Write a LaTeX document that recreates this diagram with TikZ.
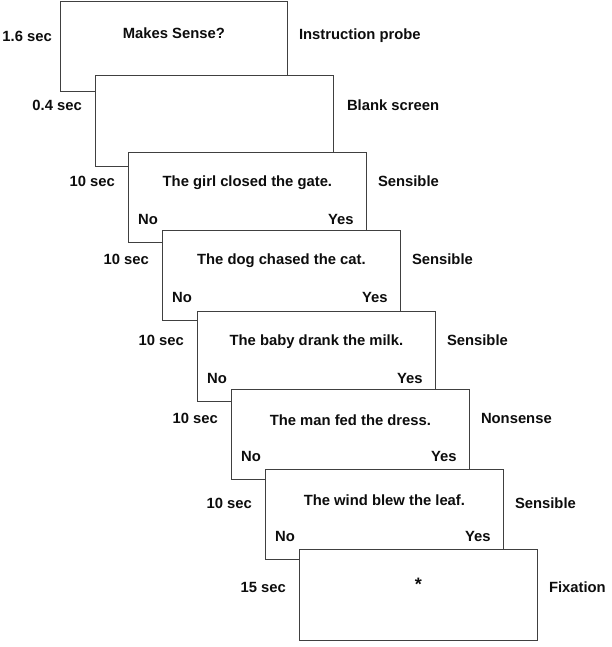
\documentclass[tikz,border=0pt]{standalone}
\usepackage{fontspec}
\setmainfont{Liberation Sans}
\usetikzlibrary{positioning,calc}

\begin{document}
\begin{tikzpicture}[
  x=1pt, y=1pt,
  screen/.style={draw=black!75, fill=white, line width=0.8pt, minimum width=238pt, minimum height=90pt, anchor=north west, inner sep=0pt},
  lbl/.style={font=\bfseries\fontsize{14.8}{17}\selectfont, text=black!95, inner sep=0pt},
]
\useasboundingbox (0,0) rectangle (611,-647);

% instruction and blank
\node[screen, minimum width=227pt] (b1) at (60,-1) {};
\node[lbl] (q1) at ($(b1.north)+(0,-32)$) {Makes Sense?};
\node[lbl, anchor=east] (t1) at ($(b1.north west)+(-8,-35)$) {1.6 sec};
\node[lbl, anchor=west] (r1) at ($(b1.north east)+(11,-35)$) {Instruction probe};

\node[screen, minimum height=91pt] (b2) at (95,-75) {};
\node[lbl, anchor=east] (t2) at ($(b2.north west)+(-13,-30)$) {0.4 sec};
\node[lbl, anchor=west] (r2) at ($(b2.north east)+(13,-30)$) {Blank screen};

% sentence trials
\node[screen] (b3) at (128,-152) {};
\node[lbl] (q3) at ($(b3.north)+(0,-31)$) {The girl closed the gate.};
\node[lbl, anchor=east] (t3) at ($(b3.north west)+(-13,-29)$) {10 sec};
\node[lbl, anchor=west] (r3) at ($(b3.north east)+(11,-29)$) {Sensible};
\node[lbl, anchor=west] (n3) at ($(b3.south west)+(10,23)$) {No};
\node[lbl, anchor=east] (y3) at ($(b3.south east)+(-13,23)$) {Yes};

\node[screen] (b4) at (162,-230) {};
\node[lbl] (q4) at ($(b4.north)+(0,-31)$) {The dog chased the cat.};
\node[lbl, anchor=east] (t4) at ($(b4.north west)+(-13,-29)$) {10 sec};
\node[lbl, anchor=west] (r4) at ($(b4.north east)+(11,-29)$) {Sensible};
\node[lbl, anchor=west] (n4) at ($(b4.south west)+(10,23)$) {No};
\node[lbl, anchor=east] (y4) at ($(b4.south east)+(-13,23)$) {Yes};

\node[screen] (b5) at (197,-311) {};
\node[lbl] (q5) at ($(b5.north)+(0,-31)$) {The baby drank the milk.};
\node[lbl, anchor=east] (t5) at ($(b5.north west)+(-13,-29)$) {10 sec};
\node[lbl, anchor=west] (r5) at ($(b5.north east)+(11,-29)$) {Sensible};
\node[lbl, anchor=west] (n5) at ($(b5.south west)+(10,23)$) {No};
\node[lbl, anchor=east] (y5) at ($(b5.south east)+(-13,23)$) {Yes};

\node[screen] (b6) at (231,-389) {};
\node[lbl] (q6) at ($(b6.north)+(0,-31)$) {The man fed the dress.};
\node[lbl, anchor=east] (t6) at ($(b6.north west)+(-13,-29)$) {10 sec};
\node[lbl, anchor=west] (r6) at ($(b6.north east)+(11,-29)$) {Nonsense};
\node[lbl, anchor=west] (n6) at ($(b6.south west)+(10,23)$) {No};
\node[lbl, anchor=east] (y6) at ($(b6.south east)+(-13,23)$) {Yes};

\node[screen] (b7) at (265,-469) {};
\node[lbl] (q7) at ($(b7.north)+(0,-31)$) {The wind blew the leaf.};
\node[lbl, anchor=east] (t7) at ($(b7.north west)+(-13,-34)$) {10 sec};
\node[lbl, anchor=west] (r7) at ($(b7.north east)+(11,-34)$) {Sensible};
\node[lbl, anchor=west] (n7) at ($(b7.south west)+(10,23)$) {No};
\node[lbl, anchor=east] (y7) at ($(b7.south east)+(-13,23)$) {Yes};

% fixation
\node[screen, minimum height=91pt] (b8) at (299,-549) {};
\node[lbl, font=\bfseries\fontsize{18}{20}\selectfont] (q8) at ($(b8.north)+(0,-35)$) {*};
\node[lbl, anchor=east] (t8) at ($(b8.north west)+(-13,-38)$) {15 sec};
\node[lbl, anchor=west] (r8) at ($(b8.north east)+(11,-38)$) {Fixation};
\end{tikzpicture}
\end{document}
